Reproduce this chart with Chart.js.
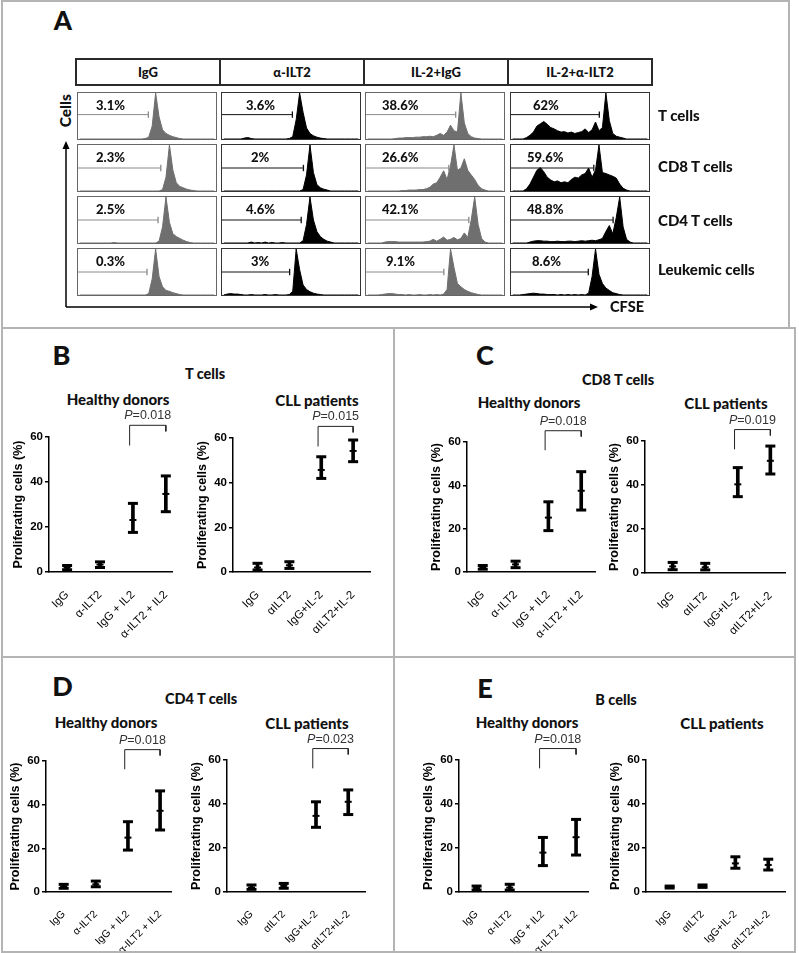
<!DOCTYPE html>
<html>
<head>
<meta charset="utf-8">
<script src="https://cdn.jsdelivr.net/npm/chart.js@4.4.1/dist/chart.umd.min.js"></script>
<style>
    body { margin: 0; background: #fff; }
    #fig { position: relative; width: 799px; height: 953px; overflow: hidden; font-family: Lato, 'Open Sans', sans-serif; color: #111; }
    .t { position: absolute; white-space: nowrap; font-weight: 900; }
    .frame { position: absolute; border: 2px solid #b4b4b4; box-sizing: border-box; z-index: 5; }
    .hdr { position: absolute; border: 2px solid #2a2a2a; box-sizing: border-box; font-weight: 900; font-size: 13px; text-align: center; line-height: 24px; }
    .hbox { position: absolute; box-sizing: border-box; width: 140px; height: 48px; }
    canvas { position: absolute; }
</style>
</head>
<body>
<div id="fig"></div>
<script>
// ---------- Panel A: CFSE histograms (40 bins, % of modal peak) ----------
const conditions = ['IgG', 'α-ILT2', 'IL-2+IgG', 'IL-2+α-ILT2'];
const populations = ['T cells', 'CD8 T cells', 'CD4 T cells', 'Leukemic cells'];
const NBINS = 40;

const tCellsIgG     = [0,0,0,0,0,0,0,0,0,0, 0,0,0,0,0,0,0,0,0,1, 4,28,100,48,20,12,8,5,3,1, 0,0,0,0,0,0,0,0,0,0];
const tCellsAnti    = [0,0,0,0,0,0,2,3,1,0, 0,0,0,0,0,0,0,0,0,1, 5,42,100,58,24,12,7,4,2,1, 0,0,0,0,0,0,0,0,0,0];
const tCellsIl2IgG  = [0,0,0,0,0,0,0,0,1,2, 2,3,3,3,4,4,5,5,6,5, 8,12,8,15,30,18,15,100,35,12, 5,2,1,0,0,0,0,0,0,0];
const tCellsIl2Anti = [0,0,0,0,3,8,15,28,33,38, 32,25,22,18,15,16,13,15,12,14, 16,22,14,20,37,18,25,100,40,12, 6,4,2,0,0,0,0,0,0,0];

const cd8IgG     = [0,0,0,0,0,0,0,0,0,0, 0,0,0,0,0,0,0,0,0,0, 0,0,0,0,3,30,100,45,18,10, 7,4,2,1,0,0,0,0,0,0];
const cd8Anti    = [0,0,0,0,0,0,0,0,0,0, 0,0,0,0,0,0,0,0,0,0, 0,0,0,3,35,100,40,14,7,4, 2,0,0,0,0,0,0,0,0,0];
const cd8Il2IgG  = [0,0,0,0,0,0,0,0,0,0, 1,1,2,2,2,3,3,5,8,15, 18,30,44,25,55,100,45,50,70,45, 35,25,12,5,2,0,0,0,0,0];
const cd8Il2Anti = [0,0,0,0,5,15,30,45,51,42, 30,24,20,22,18,20,18,25,30,28, 35,38,50,30,45,100,40,38,35,32, 28,15,6,2,0,0,0,0,0,0];

const cd4IgG     = [0,0,0,0,0,0,0,0,0,0, 1,0,0,0,0,0,0,0,0,0, 0,0,0,4,35,100,45,20,14,10, 6,3,1,0,0,0,0,0,0,0];
const cd4Anti    = [0,0,0,0,0,0,0,0,2,0, 1,0,2,0,1,0,0,1,0,0, 0,0,0,5,40,100,50,25,14,8, 4,2,0,0,0,0,0,0,0,0];
const cd4Il2IgG  = [0,0,0,0,0,2,3,3,3,2, 2,2,2,2,2,2,2,3,4,8, 4,8,13,6,8,12,7,10,22,12, 50,100,40,10,2,0,0,0,0,0];
const cd4Il2Anti = [0,0,0,0,0,2,4,5,5,4, 4,3,3,4,3,3,4,4,3,4, 5,4,5,6,5,7,10,25,38,20, 55,100,35,8,2,0,0,0,0,0];

const leuIgG     = [0,0,0,0,0,0,0,0,0,0, 0,0,0,0,0,0,0,0,0,0, 3,35,100,40,18,10,8,5,3,1, 0,0,0,0,0,0,0,0,0,0];
const leuAnti    = [0,2,3,2,2,1,0,0,1,0, 0,0,1,0,0,1,0,0,0,1, 8,100,55,22,12,7,4,2,1,0, 0,0,0,0,0,0,0,0,0,0];
const leuIl2IgG  = [0,0,0,0,1,2,3,3,2,1, 1,0,1,0,0,1,0,0,1,0, 1,0,2,12,100,60,25,18,12,8, 5,3,1,0,0,0,0,0,0,0];
const leuIl2Anti = [0,0,0,1,2,3,4,3,2,2, 1,1,1,0,1,0,1,0,1,0, 1,0,4,40,100,45,25,15,10,5, 3,1,0,0,0,0,0,0,0,0];

// gate end (fraction of CFSE axis) and gate percentages
const tGateEnd   = [0.51, 0.51, 0.65, 0.64];
const cd8GateEnd = [0.60, 0.59, 0.60, 0.60];
const cd4GateEnd = [0.58, 0.574, 0.745, 0.74];
const leuGateEnd = [0.50, 0.49, 0.564, 0.56];
const gateLevel  = [53, 50, 50, 50];

const tPct   = ['3.1%', '3.6%', '38.6%', '62%'];
const cd8Pct = ['2.3%', '2%', '26.6%', '59.6%'];
const cd4Pct = ['2.5%', '4.6%', '42.1%', '48.8%'];
const leuPct = ['0.3%', '3%', '9.1%', '8.6%'];

// ---------- Panels B-E: proliferating cells (%) ----------
const catsHealthy = ['IgG', 'α-ILT2', 'IgG + IL2', 'α-ILT2 + IL2'];
const catsCLL = ['IgG', 'αILT2', 'IgG+IL-2', 'αILT2+IL-2'];
const yTicks = [0, 20, 40, 60];

const bHealthyMean = [2.0, 3.3, 23.1, 34.7];
const bHealthyLo   = [1.0, 2.0, 17.6, 26.8];
const bHealthyHi   = [2.9, 4.5, 30.5, 42.7];
const bCllMean = [2.0, 3.0, 45.7, 54.2];
const bCllLo   = [0.9, 1.6, 41.9, 49.4];
const bCllHi   = [3.9, 4.6, 51.6, 59.1];

const cHealthyMean = [2.1, 3.5, 25.1, 37.5];
const cHealthyLo   = [1.3, 2.0, 19.1, 28.6];
const cHealthyHi   = [3.0, 5.0, 32.4, 46.3];
const cCllMean = [3.0, 2.6, 40.3, 51.0];
const cCllLo   = [1.5, 1.4, 34.7, 45.0];
const cCllHi   = [4.8, 4.4, 47.9, 57.7];

const dHealthyMean = [2.5, 3.5, 24.9, 37.2];
const dHealthyLo   = [1.7, 2.4, 19.2, 28.4];
const dHealthyHi   = [3.5, 5.0, 32.2, 46.3];
const dCllMean = [2.0, 2.8, 34.6, 41.0];
const dCllLo   = [1.2, 1.7, 29.4, 35.2];
const dCllHi   = [3.2, 3.9, 41.0, 46.4];

const eHealthyMean = [1.8, 2.0, 17.9, 24.9];
const eHealthyLo   = [0.9, 0.9, 12.0, 16.8];
const eHealthyHi   = [2.7, 3.5, 24.8, 33.0];
const eCllMean = [2.2, 2.7, 13.0, 12.3];
const eCllLo   = [1.8, 2.1, 10.8, 10.0];
const eCllHi   = [2.7, 3.2, 16.0, 14.9];

const pValues = ['0.018', '0.015', '0.018', '0.019', '0.018', '0.023', '0.018', null];

const FONT_AX = "'Liberation Sans', Arial, sans-serif";
const fig = document.getElementById('fig');

function label(text, cx, cy, size, extra) {
    const d = document.createElement('div');
    d.className = 't';
    d.textContent = text;
    d.style.fontSize = size + 'px';
    d.style.lineHeight = size + 'px';
    d.style.left = (cx - 150) + 'px';
    d.style.width = '300px';
    d.style.textAlign = 'center';
    d.style.top = (cy - size / 2) + 'px';
    if (extra) Object.assign(d.style, extra);
    fig.appendChild(d);
}

function labelLeft(text, x, cy, size) {
    const d = document.createElement('div');
    d.className = 't';
    d.textContent = text;
    d.style.fontSize = size + 'px';
    d.style.lineHeight = size + 'px';
    d.style.left = x + 'px';
    d.style.top = (cy - size / 2) + 'px';
    fig.appendChild(d);
}

/**
 * One CFSE histogram with its gate
 */
function histChart(left, top, values, gateEnd, level, dark) {
    const box = document.createElement('div');
    box.className = 'hbox';
    box.style.left = left + 'px';
    box.style.top = top + 'px';
    box.style.border = '1px solid ' + (dark ? '#333' : '#666');
    fig.appendChild(box);
    const cv = document.createElement('canvas');
    cv.width = 138;
    cv.height = 46;
    cv.style.left = '0px';
    cv.style.top = '0px';
    box.appendChild(cv);

    const col = dark ? '#000' : '#6f6f6f';
    const gateCol = dark ? '#111' : '#8a8a8a';
    const xEnd = gateEnd * NBINS;

    new Chart(cv, {
        type: 'line',
        data: {
            datasets: [{
                data: values.map((v, i) => ({ x: i + 0.5, y: v })),
                borderColor: col,
                backgroundColor: col,
                borderWidth: 1,
                fill: 'origin',
                pointRadius: 0,
                tension: 0,
                order: 2
            }, {
                data: [{ x: 0, y: level }, { x: xEnd, y: level }],
                borderColor: gateCol,
                borderWidth: 1,
                pointRadius: 0,
                order: 1
            }, {
                data: [{ x: xEnd, y: level - 7 }, { x: xEnd, y: level + 7 }],
                borderColor: gateCol,
                borderWidth: 1.3,
                pointRadius: 0,
                order: 1
            }]
        },
        options: {
            responsive: false,
            animation: false,
            events: [],
            layout: { padding: 0 },
            plugins: { legend: { display: false }, tooltip: { enabled: false } },
            scales: {
                x: { type: 'linear', display: false, min: 0, max: NBINS },
                y: { display: false, min: 0, max: 100 }
            }
        }
    });
}

// P value label above the bracket
const pLabelPlugin = {
    id: 'pLabel',
    afterDraw(chart, args, opts) {
        if (!opts.text) return;
        const { ctx, scales: { x, y } } = chart;
        const cx = (x.getPixelForValue(opts.from) + x.getPixelForValue(opts.to)) / 2;
        const cy = y.getPixelForValue(opts.level);
        ctx.save();
        ctx.fillStyle = '#333';
        ctx.textBaseline = 'middle';
        ctx.textAlign = 'left';
        ctx.font = 'italic 12.5px ' + FONT_AX;
        const wP = ctx.measureText('P').width;
        ctx.font = '12.5px ' + FONT_AX;
        const wR = ctx.measureText('=' + opts.text).width;
        const sx = cx - (wP + wR) / 2;
        ctx.font = 'italic 12.5px ' + FONT_AX;
        ctx.fillText('P', sx, cy);
        ctx.font = '12.5px ' + FONT_AX;
        ctx.fillText('=' + opts.text, sx + wP, cy);
        ctx.restore();
    }
};

/**
 * Mean with error bars for the 4 conditions
 */
function errorChart(spec) {
    const AXW = 44, PADT = 45, AXH = 80, PADR = 6;
    const cv = document.createElement('canvas');
    cv.width = AXW + (spec.R - spec.X) + PADR;
    cv.height = PADT + (spec.B - spec.T) + AXH;
    cv.style.left = (spec.X - AXW) + 'px';
    cv.style.top = (spec.T - PADT) + 'px';
    fig.appendChild(cv);

    const pts = arr => arr.map((v, i) => ({ x: i, y: v }));
    const datasets = [{
        type: 'bar',
        data: spec.lo.map((v, i) => ({ x: i, y: [v, spec.hi[i]] })),
        backgroundColor: '#000',
        barThickness: 3,
        borderWidth: 0,
        order: 3
    }, {
        type: 'line',
        data: pts(spec.lo).concat(pts(spec.hi)),
        showLine: false,
        pointStyle: 'line',
        pointRadius: 5,
        pointBorderWidth: 3,
        pointBorderColor: '#000',
        clip: false,
        order: 2
    }, {
        type: 'line',
        data: pts(spec.mean),
        showLine: false,
        pointStyle: 'line',
        pointRadius: 3.5,
        pointBorderWidth: 2,
        pointBorderColor: '#000',
        clip: false,
        order: 1
    }];
    if (spec.p) {
        datasets.push({
            type: 'line',
            data: [{ x: 1.9, y: 56.2 }, { x: 1.9, y: 65.2 }, { x: 3, y: 65.2 }, { x: 3, y: 62.5 }],
            borderColor: '#222',
            borderWidth: 1,
            pointRadius: 0,
            tension: 0,
            fill: false,
            clip: false,
            order: 0
        });
    }

    new Chart(cv, {
        type: 'bar',
        data: { datasets: datasets },
        plugins: [pLabelPlugin],
        options: {
            responsive: false,
            animation: false,
            events: [],
            layout: { padding: { top: PADT, right: PADR, left: 0, bottom: 0 } },
            plugins: {
                legend: { display: false },
                tooltip: { enabled: false },
                pLabel: { text: spec.p, from: 1.9, to: 3, level: 69.5 }
            },
            scales: {
                x: {
                    type: 'linear',
                    min: spec.xMin,
                    max: spec.xMax,
                    bounds: 'data',
                    offset: false,
                    afterBuildTicks: s => { s.ticks = spec.labels.map((_, i) => ({ value: i })); },
                    afterFit: s => { s.height = AXH; },
                    grid: { display: false },
                    border: { display: true, color: '#000', width: 1.5 },
                    ticks: {
                        autoSkip: false,
                        maxRotation: 45,
                        minRotation: 45,
                        padding: 8,
                        color: '#000',
                        font: { family: FONT_AX, size: spec.labelSize },
                        callback: v => spec.labels[v]
                    }
                },
                y: {
                    min: 0,
                    max: 60,
                    afterBuildTicks: s => { s.ticks = yTicks.map(v => ({ value: v })); },
                    afterFit: s => { s.width = AXW; },
                    grid: { drawOnChartArea: false, drawTicks: true, tickLength: 4, color: '#000', lineWidth: 1.5 },
                    border: { display: true, color: '#000', width: 1.5 },
                    ticks: { padding: 2, color: '#000', font: { family: FONT_AX, size: 11.5, weight: 'bold' } },
                    title: {
                        display: true,
                        text: 'Proliferating cells (%)',
                        color: '#000',
                        font: { family: FONT_AX, size: 12.5, weight: 'bold' },
                        padding: { top: 6, bottom: 0 }
                    }
                }
            }
        }
    });
}

// ---------- build panel A ----------
label('A', 63, 19.5, 26);

const hdrLeft = [75, 219, 363, 507];
conditions.forEach((c, i) => {
    const d = document.createElement('div');
    d.className = 'hdr';
    d.style.left = hdrLeft[i] + 'px';
    d.style.top = '58px';
    d.style.width = '146px';
    d.style.height = '28px';
    d.textContent = c;
    fig.appendChild(d);
});

const boxLeft = [77, 221, 365, 510];
const boxTop = [92, 144, 196, 248];
const histRows = [
    [tCellsIgG, tCellsAnti, tCellsIl2IgG, tCellsIl2Anti],
    [cd8IgG, cd8Anti, cd8Il2IgG, cd8Il2Anti],
    [cd4IgG, cd4Anti, cd4Il2IgG, cd4Il2Anti],
    [leuIgG, leuAnti, leuIl2IgG, leuIl2Anti]
];
const gateRows = [tGateEnd, cd8GateEnd, cd4GateEnd, leuGateEnd];
const pctRows = [tPct, cd8Pct, cd4Pct, leuPct];
const pctOffset = [[19, 25, 17, 23], [19, 30, 17, 17], [19, 25, 17, 17], [19, 30, 21, 22]];
const rowLabelY = [115, 166, 220, 269];

histRows.forEach((row, r) => {
    row.forEach((vals, c) => {
        histChart(boxLeft[c], boxTop[r], vals, gateRows[r][c], gateLevel[r], c % 2 === 1);
        labelLeft(pctRows[r][c], boxLeft[c] + pctOffset[r][c], boxTop[r] + 13, 13);
    });
    labelLeft(populations[r], 658, rowLabelY[r], 15);
});

label('Cells', 66, 111, 15.5, { transform: 'rotate(-90deg)' });
label('CFSE', 627, 307, 14.5);

const svgWrap = document.createElement('div');
svgWrap.innerHTML =
    '<svg style="position:absolute;left:0;top:0" width="799" height="330">' +
    '<line x1="66" y1="307" x2="66" y2="148" stroke="#000" stroke-width="1.5"/>' +
    '<polygon points="66,141 62.5,149 69.5,149" fill="#000"/>' +
    '<line x1="66" y1="307" x2="591" y2="307" stroke="#000" stroke-width="1.5"/>' +
    '<polygon points="598,307 590,303.5 590,310.5" fill="#000"/>' +
    '</svg>';
fig.appendChild(svgWrap);

// ---------- panels B-E ----------
const panelText = [
    ['B', 61.5, 354, 'T cells', 205, 374, 118, 399, 317, 400],
    ['C', 485, 354, 'CD8 T cells', 618, 380, 529, 402, 726, 403],
    ['D', 62.5, 685, 'CD4 T cells', 201, 699, 106, 722, 307, 723],
    ['E', 485, 687, 'B cells', 616, 700, 527, 722, 722, 723]
];
panelText.forEach(p => {
    label(p[0], p[1], p[2], 27);
    label(p[3], p[4], p[5], 14.5);
    label('Healthy donors', p[6], p[7], 15);
    label('CLL patients', p[8], p[9], 15);
});

const chartSpecs = [
    { X: 49,  T: 437, B: 572, R: 178, xMin: -0.55, xMax: 3.19, labelSize: 11.5, labels: catsHealthy, mean: bHealthyMean, lo: bHealthyLo, hi: bHealthyHi },
    { X: 233, T: 438, B: 572, R: 372, xMin: -0.77, xMax: 3.53, labelSize: 11.5, labels: catsCLL, mean: bCllMean, lo: bCllLo, hi: bCllHi },
    { X: 467, T: 442, B: 572, R: 597, xMin: -0.48, xMax: 3.42, labelSize: 11.5, labels: catsHealthy, mean: cHealthyMean, lo: cHealthyLo, hi: cHealthyHi },
    { X: 645, T: 441, B: 573, R: 787, xMin: -0.85, xMax: 3.45, labelSize: 11.5, labels: catsCLL, mean: cCllMean, lo: cCllLo, hi: cCllHi },
    { X: 46,  T: 761, B: 892, R: 173, xMin: -0.55, xMax: 3.34, labelSize: 10.5, labels: catsHealthy, mean: dHealthyMean, lo: dHealthyLo, hi: dHealthyHi },
    { X: 227, T: 760, B: 892, R: 367, xMin: -0.76, xMax: 3.52, labelSize: 10.5, labels: catsCLL, mean: dCllMean, lo: dCllLo, hi: dCllHi },
    { X: 459, T: 760, B: 892, R: 590, xMin: -0.53, xMax: 3.36, labelSize: 10.5, labels: catsHealthy, mean: eHealthyMean, lo: eHealthyLo, hi: eHealthyHi },
    { X: 646, T: 760, B: 892, R: 787, xMin: -0.72, xMax: 3.51, labelSize: 10.5, labels: catsCLL, mean: eCllMean, lo: eCllLo, hi: eCllHi }
];
chartSpecs.forEach((s, i) => {
    s.p = pValues[i];
    errorChart(s);
});

// panel frames
[[1, 0, 789, 329], [1, 327, 394, 331], [393, 327, 403, 331], [1, 656, 394, 297], [393, 656, 403, 297]].forEach(f => {
    const d = document.createElement('div');
    d.className = 'frame';
    d.style.left = f[0] + 'px';
    d.style.top = f[1] + 'px';
    d.style.width = f[2] + 'px';
    d.style.height = f[3] + 'px';
    fig.appendChild(d);
});
</script>
</body>
</html>
